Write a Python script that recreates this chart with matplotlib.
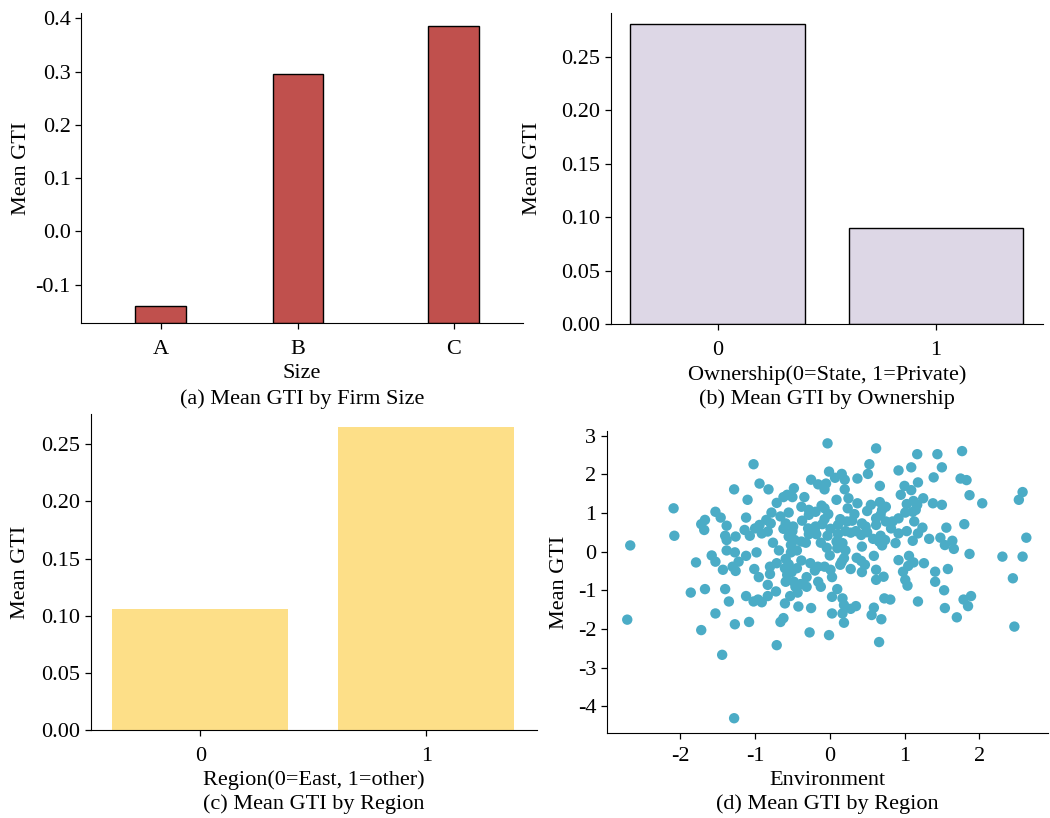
import matplotlib
matplotlib.use("Agg")
import matplotlib.pyplot as plt
import numpy as np

plt.rcParams['font.family'] = ['Liberation Serif', 'DejaVu Serif']
plt.rcParams['axes.unicode_minus'] = False
plt.rcParams['font.size'] = 16

# ---------------- data ----------------
size_cats = ['A', 'B', 'C']
size_gti = [-0.141, 0.2955, 0.3855]

own_cats = ['0', '1']
own_gti = [0.2803, 0.0898]

region_cats = ['0', '1']
region_gti = [0.1059, 0.2652]

env_x = [-0.03, 0.62, 1.77, 1.17, 1.44, -1.02, 0.53, 1.50, 1.09, -0.01, 0.92, 0.16, 0.51, 0.07,
         0.20, 0.37, 1.39, 1.75, 1.83, -0.25, -0.155, -0.05, 1.18, -0.94, 0.67, 1.00, -0.07, 0.20,
         -0.82, -1.28, -0.48, 1.09, 2.58, -0.57, 0.95, 1.87, -0.62, -0.50, -0.34, 0.25, 1.25, -1.10,
         2.53, 0.09, 0.67, 1.12, -0.71, 0.37, 1.03, 1.38, 2.04, 1.50, 0.55, -0.38, -0.11, 0.75,
         -2.09, 1.17, 0.24, -0.07, -0.28, 0.70, 1.15, 0.50, -1.53, -0.78, -0.55, -0.19, 1.01, 1.11,
         -0.02, 0.33, 0.68, -1.46, -1.12, -0.66, -0.28, 0.92, 0.62, -0.07, 0.14, -0.85, -1.67, 0.30,
         -0.37, 0.84, 1.13, 0.23, -0.79, 0.43, 0.75, -1.72, -0.59, -0.94, -1.38, 1.80, -0.19, -0.10,
         0.11, 0.62, -0.49, 0.48, 1.24, -1.00, 1.56, -0.62, -0.29, 0.01, 0.82, -1.68, -1.14, -0.83,
         -0.50, -0.20, 0.21, 0.35, 1.03, -0.91, 0.28, 0.50, 0.92, 1.18, -0.28, -0.18, 0.11, 0.42,
         -2.08, -1.40, -1.26, -1.07, -0.55, -0.03, 0.68, 2.63, 1.48, 1.33, 0.58, -0.47, -1.38, 0.74,
         1.11, 1.64, 0.09, -0.38, -0.76, -0.32, -0.12, 0.66, 0.17, 0.88, 1.54, -2.67, -0.52, 0.70,
         0.12, 0.43, -0.04, 0.10, 1.66, -0.68, -0.44, 0.21, -1.38, -1.27, -0.98, -0.52, 1.87, -1.58,
         -1.12, 0.00, 0.59, 1.06, 2.31, 2.58, 0.36, -0.59, 0.19, 0.92, -1.53, -1.22, -1.79, -0.38,
         0.16, 0.42, 1.12, 1.26, -0.55, -0.26, -0.71, 0.14, 1.05, 0.47, -0.80, -1.30, -0.16, -0.07,
         -0.60, -0.44, -1.01, 0.28, 1.58, -1.43, -1.26, -0.20, 0.01, 0.62, 0.98, 1.41, -0.51, 0.43,
         -0.80, -0.57, 0.72, -0.95, 0.03, -0.31, 2.45, 0.62, 1.01, -0.59, -0.48, -0.155, 1.41, -0.39,
         -0.83, 1.04, -0.46, -0.31, -0.12, -1.67, -1.40, 0.10, 1.53, -0.72, -1.86, -0.43, -0.53, -1.12,
         -0.83, 1.89, 0.03, 0.17, 0.73, 0.81, 1.79, -0.96, -1.02, -1.35, -0.91, 1.18, -0.60, 0.19,
         0.35, -0.42, 0.59, 1.85, -0.25, 0.28, 1.54, -1.53, 0.03, 0.17, 0.56, 1.70, -0.62, -2.71,
         0.69, -0.66, -1.08, 0.19, -1.27, 2.47, -1.72, -0.27, -0.01, 0.66, -0.71, -1.44, -1.28]
gti = [2.80, 2.67, 2.60, 2.52, 2.52, 2.26, 2.26, 2.18, 2.18, 2.07, 2.10, 2.01, 2.01, 1.91,
       1.86, 1.89, 1.92, 1.89, 1.85, 1.86, 1.74, 1.76, 1.79, 1.76, 1.70, 1.70, 1.61, 1.61,
       1.61, 1.61, 1.64, 1.59, 1.54, 1.47, 1.47, 1.46, 1.41, 1.41, 1.41, 1.38, 1.38, 1.34,
       1.34, 1.34, 1.28, 1.31, 1.26, 1.25, 1.23, 1.25, 1.25, 1.21, 1.21, 1.16, 1.19, 1.16,
       1.12, 1.21, 1.12, 1.12, 1.08, 1.08, 1.08, 1.05, 1.03, 1.01, 1.01, 1.03, 1.01, 1.03,
       0.97, 0.97, 0.95, 0.88, 0.88, 0.91, 0.95, 0.86, 0.86, 0.84, 0.84, 0.82, 0.82, 0.80,
       0.80, 0.78, 0.78, 0.78, 0.73, 0.73, 0.78, 0.71, 0.73, 0.69, 0.67, 0.71, 0.65, 0.71,
       0.69, 0.69, 0.65, 0.65, 0.62, 0.60, 0.62, 0.59, 0.60, 0.59, 0.60, 0.56, 0.56, 0.52,
       0.53, 0.53, 0.53, 0.53, 0.53, 0.47, 0.49, 0.50, 0.47, 0.47, 0.45, 0.45, 0.45, 0.43,
       0.41, 0.41, 0.39, 0.41, 0.39, 0.41, 0.41, 0.36, 0.36, 0.33, 0.33, 0.30, 0.30, 0.30,
       0.28, 0.28, 0.26, 0.26, 0.23, 0.23, 0.23, 0.26, 0.22, 0.22, 0.17, 0.16, 0.17, 0.16,
       0.13, 0.13, 0.10, 0.09, 0.07, 0.03, 0.03, 0.03, 0.03, -0.02, -0.02, -0.02, -0.06, -0.10,
       -0.11, -0.10, -0.11, -0.11, -0.13, -0.13, -0.16, -0.19, -0.17, -0.22, -0.26, -0.26, -0.28, -0.23,
       -0.26, -0.24, -0.28, -0.30, -0.33, -0.30, -0.30, -0.34, -0.37, -0.34, -0.39, -0.39, -0.39, -0.39,
       -0.43, -0.43, -0.45, -0.45, -0.45, -0.47, -0.50, -0.49, -0.47, -0.47, -0.52, -0.52, -0.53, -0.53,
       -0.58, -0.60, -0.65, -0.66, -0.66, -0.66, -0.69, -0.73, -0.73, -0.78, -0.78, -0.78, -0.78, -0.84,
       -0.86, -0.88, -0.91, -0.91, -0.91, -0.97, -0.97, -0.97, -1.00, -1.03, -1.06, -1.06, -1.15, -1.15,
       -1.15, -1.15, -1.17, -1.21, -1.21, -1.24, -1.24, -1.24, -1.29, -1.29, -1.31, -1.29, -1.34, -1.38,
       -1.41, -1.42, -1.45, -1.41, -1.46, -1.48, -1.46, -1.60, -1.60, -1.60, -1.64, -1.70, -1.72, -1.76,
       -1.75, -1.82, -1.82, -1.84, -1.88, -1.94, -2.03, -2.09, -2.16, -2.34, -2.42, -2.67, -4.31]

# ---------------- layout ----------------
W, H = 1050, 818
fig = plt.figure(figsize=(W / 100, H / 100), dpi=100)


def box(l, t, r, b):
    return [l / W, 1 - b / H, (r - l) / W, (b - t) / H]


ax_a = fig.add_axes(box(81, 13, 523, 323))
ax_b = fig.add_axes(box(610.7, 13.3, 1043, 324.3))
ax_c = fig.add_axes(box(90.7, 414.3, 537, 730))
ax_d = fig.add_axes(box(606.7, 431, 1048, 733.3))

for ax in (ax_a, ax_b, ax_c, ax_d):
    ax.spines['top'].set_visible(False)
    ax.spines['right'].set_visible(False)
    ax.tick_params(direction='out', length=4.5, width=0.9, labelsize=16, pad=3)
    ax.tick_params(axis='x', pad=7.5)
    ax.set_ylabel('Mean GTI', fontsize=16)
    ax.yaxis.label.set_va('center')

# (a)
a_pos = np.array([0, 0.884, 1.884])
a_base = -0.172
ax_a.bar(a_pos, np.array(size_gti) - a_base, bottom=a_base, width=0.326,
         color='#C0504D', edgecolor='black', linewidth=1.0)
ax_a.set_xticks(a_pos)
ax_a.set_xticklabels(size_cats)
ax_a.set_xlim(-0.511, 2.33)
ax_a.set_ylim(a_base, 0.41)
ax_a.set_yticks([-0.1, 0.0, 0.1, 0.2, 0.3, 0.4])
ax_a.set_yticklabels(['-0.1', '0.0', '0.1', '0.2', '0.3', '0.4'])
ax_a.set_xlabel('Size', fontsize=16, labelpad=3.5)

# (b)
b_pos = np.arange(len(own_cats))
ax_b.bar(b_pos, own_gti, width=0.8, color='#DDD7E6', edgecolor='black', linewidth=1.0)
ax_b.set_xticks(b_pos)
ax_b.set_xticklabels(own_cats)
ax_b.set_xlim(-0.49, 1.49)
ax_b.set_ylim(0, 0.2906)
ax_b.set_yticks(np.arange(0, 0.26, 0.05))
ax_b.set_yticklabels([f'{v:.2f}' for v in np.arange(0, 0.26, 0.05)])
ax_b.set_xlabel('Ownership(0=State, 1=Private)', fontsize=16, labelpad=3.5)

# (c)
c_pos = np.arange(len(region_cats))
ax_c.bar(c_pos, region_gti, width=0.78, color='#FDDF88', edgecolor='none')
ax_c.set_xticks(c_pos)
ax_c.set_xticklabels(region_cats)
ax_c.set_xlim(-0.485, 1.49)
ax_c.set_ylim(0, 0.2763)
ax_c.set_yticks(np.arange(0, 0.26, 0.05))
ax_c.set_yticklabels([f'{v:.2f}' for v in np.arange(0, 0.26, 0.05)])
ax_c.set_xlabel('Region(0=East, 1=other)', fontsize=16, labelpad=3.5)

# (d)
ax_d.scatter(env_x, gti, s=56, color='#4BACC6', edgecolors='none')
ax_d.set_xlim(-2.985, 2.92)
ax_d.set_ylim(-4.70, 3.12)
ax_d.set_xticks([-2, -1, 0, 1, 2])
ax_d.set_xticklabels(['-2', '-1', '0', '1', '2'])
ax_d.set_yticks([-4, -3, -2, -1, 0, 1, 2, 3])
ax_d.set_yticklabels(['-4', '-3', '-2', '-1', '0', '1', '2', '3'])
ax_d.tick_params(axis='x', pad=5.5)
ax_d.set_xlabel('Environment', fontsize=16, labelpad=3.5)

# captions
captions = [(ax_a, '(a) Mean GTI by Firm Size', 399),
            (ax_b, '(b) Mean GTI by Ownership', 399),
            (ax_c, '(c) Mean GTI by Region', 804),
            (ax_d, '(d) Mean GTI by Region', 804)]
for ax, txt, yc in captions:
    bb = ax.get_position()
    fig.text(bb.x0 + bb.width / 2, 1 - yc / H, txt, ha='center', va='center', fontsize=16)

ax_a.yaxis.set_label_coords(-0.1335, 0.5)
ax_b.yaxis.set_label_coords(-0.18, 0.5)
ax_c.yaxis.set_label_coords(-0.158, 0.5)
ax_d.yaxis.set_label_coords(-0.106, 0.5)

fig.savefig('out.png', dpi=100)
